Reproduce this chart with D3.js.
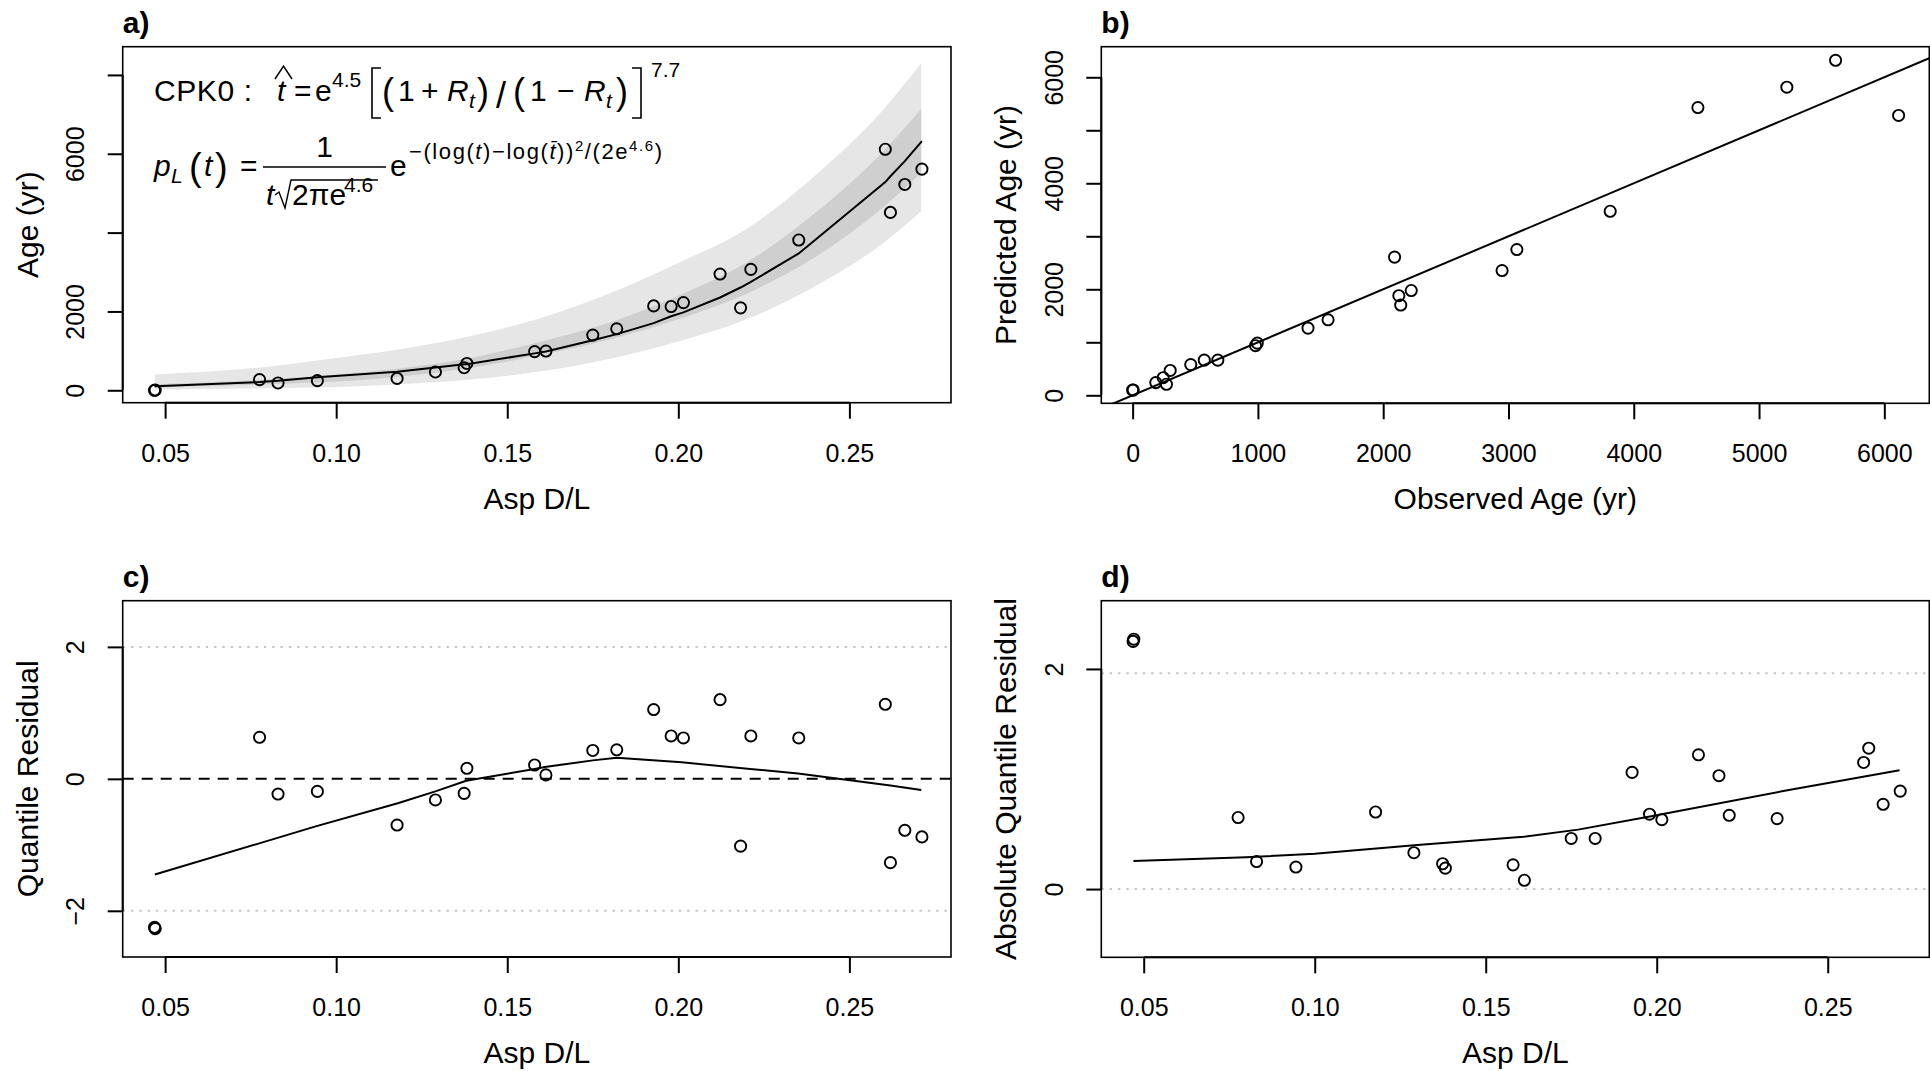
<!DOCTYPE html>
<html>
<head>
<meta charset="utf-8">
<script src="https://cdn.jsdelivr.net/npm/d3@7"></script>
<style>
  body { margin: 0; background: #fff; }
  svg text { font-family: "Liberation Sans", Arial, Helvetica, sans-serif; fill: #000; }
</style>
</head>
<body>
<div id="chart"></div>
<script>

// samples: Asp D/L, observed age, model prediction, residuals
var aspDL = [0.0469, 0.0471, 0.0776, 0.0830, 0.0945, 0.1178, 0.1290, 0.1374, 0.1382, 0.1580, 0.1613, 0.1750, 0.1820, 0.1928, 0.1979, 0.2015, 0.2122, 0.2182, 0.2212, 0.2352, 0.2605, 0.2620, 0.2662, 0.2712];
var obsAge = [0, 5, 270, 185, 244, 300, 464, 572, 680, 981, 995, 1400, 1560, 2140, 2125, 2224, 2949, 2091, 3067, 3812, 6114, 4512, 5222, 5611];
var predAge = [98, 100, 208, 240, 332, 468, 579, 663, 663, 936, 985, 1268, 1424, 1703, 1879, 1977, 2354, 2607, 2750, 3472, 5280, 5429, 5813, 6320];
var quantResid = [-2.25, -2.27, 0.63, -0.23, -0.19, -0.70, -0.32, -0.22, 0.16, 0.21, 0.06, 0.43, 0.44, 1.05, 0.65, 0.62, 1.20, -1.02, 0.65, 0.62, 1.13, -1.27, -0.78, -0.88];
var absResid = [2.25, 2.27, 0.65, 0.25, 0.20, 0.70, 0.33, 0.23, 0.19, 0.22, 0.08, 0.46, 0.46, 1.06, 0.68, 0.63, 1.22, 1.03, 0.67, 0.64, 1.15, 1.28, 0.77, 0.89];

// grey bands of panel a
var bandDL = [0.047, 0.08, 0.10, 0.12, 0.14, 0.16, 0.18, 0.20, 0.22, 0.24, 0.26, 0.271];
var bandOuterLo = [20, 50, 85, 160, 280, 480, 800, 1240, 1800, 2640, 3740, 4540];
var bandInnerLo = [70, 150, 220, 360, 580, 900, 1290, 1800, 2450, 3380, 4650, 5520];
var bandInnerHi = [150, 280, 400, 570, 830, 1240, 1720, 2400, 3250, 4500, 6070, 7140];
var bandOuterHi = [400, 600, 820, 1060, 1390, 1840, 2460, 3230, 4100, 5450, 7130, 8300];

// smooth lines of panels c and d
var smoothDL_c = [0.047, 0.078, 0.094, 0.118, 0.129, 0.138, 0.158, 0.161, 0.175, 0.182, 0.201, 0.221, 0.235, 0.262, 0.271];
var smoothC = [-1.45, -0.97, -0.72, -0.37, -0.19, -0.03, 0.15, 0.18, 0.28, 0.32, 0.25, 0.15, 0.08, -0.10, -0.17];
var smoothDL_d = [0.047, 0.08, 0.10, 0.13, 0.161, 0.177, 0.198, 0.237, 0.271];
var smoothD = [0.255, 0.29, 0.32, 0.40, 0.475, 0.54, 0.66, 0.89, 1.08];

// ticks
var dlTicks = [0.05, 0.10, 0.15, 0.20, 0.25];
var ageTicksA = [0, 2000, 4000, 6000, 8000];
var ageLabelsA = [0, 2000, 6000];
var obsTicksB = [0, 1000, 2000, 3000, 4000, 5000, 6000];
var predTicksB = [0, 1000, 2000, 3000, 4000, 5000, 6000];
var predLabelsB = [0, 2000, 4000, 6000];
var residTicks = [-2, 0, 2];
var absTicks = [0, 2];
var refLinesC = [-2, 2];
var refLinesD = [0, 1.96];

var svg = d3.select("#chart").append("svg")
  .attr("width", 1930)
  .attr("height", 1071);

var fmtDL = d3.format(".2f"), fmtInt = d3.format("d");

function makePanel(p) {
  var g = svg.append("g").attr("transform", `translate(${p.left},${p.top})`);
  p.x = d3.scaleLinear().domain(p.xDomain).range([0, p.w]);
  p.y = d3.scaleLinear().domain(p.yDomain).range([p.h, 0]);
  p.g = g;
  var id = "clip" + p.name;
  svg.append("clipPath").attr("id", id)
    .append("rect").attr("width", p.w).attr("height", p.h);
  p.plot = g.append("g").attr("clip-path", `url(#${id})`);
  return p;
}

function finishPanel(p) {
  var g = p.g;
  g.append("rect")
    .attr("width", p.w).attr("height", p.h)
    .attr("fill", "none").attr("stroke", "#000").attr("stroke-width", 1.6);

  // x axis
  var xa = g.append("g").attr("transform", `translate(0,${p.h})`)
    .call(d3.axisBottom(p.x).tickValues(p.xTicks).tickSize(16).tickFormat(p.xFmt));
  xa.select(".domain").remove();
  xa.selectAll("line").attr("stroke-width", 2);
  xa.selectAll("text")
    .attr("y", 59).attr("dy", null)
    .attr("font-size", 25).attr("font-family", null);
  xa.append("line")
    .attr("x1", p.x(p.xTicks[0])).attr("x2", p.x(p.xTicks[p.xTicks.length - 1]))
    .attr("stroke", "#000").attr("stroke-width", 2);

  // y axis
  var ya = g.append("g")
    .call(d3.axisLeft(p.y).tickValues(p.yTicks).tickSize(15)
      .tickFormat(d => p.yLabels.indexOf(d) >= 0 ? p.yFmt(d) : ""));
  ya.select(".domain").remove();
  ya.selectAll("line").attr("stroke-width", 2);
  ya.selectAll("text")
    .attr("x", 0).attr("dy", null)
    .attr("text-anchor", "middle")
    .attr("transform", "translate(-38.5,0) rotate(-90)")
    .attr("font-size", 25).attr("font-family", null);
  ya.append("line")
    .attr("y1", p.y(p.yTicks[0])).attr("y2", p.y(p.yTicks[p.yTicks.length - 1]))
    .attr("stroke", "#000").attr("stroke-width", 2);

  // titles
  g.append("text")
    .attr("x", p.w / 2).attr("y", p.h + 106)
    .attr("text-anchor", "middle").attr("font-size", 30)
    .text(p.xTitle);
  g.append("text")
    .attr("transform", `translate(-85,${p.h / 2}) rotate(-90)`)
    .attr("text-anchor", "middle").attr("font-size", 30)
    .text(p.yTitle);
  g.append("text")
    .attr("x", 0).attr("y", -14)
    .attr("font-size", 30).attr("font-weight", "bold")
    .text(p.tag);
}

function drawPoints(p, xs, ys) {
  p.plot.append("g").selectAll("circle")
    .data(xs)
    .join("circle")
    .attr("cx", (d, i) => p.x(d))
    .attr("cy", (d, i) => p.y(ys[i]))
    .attr("r", 5.6)
    .attr("fill", "none").attr("stroke", "#000").attr("stroke-width", 1.9);
}

function drawLine(p, xs, ys, dash) {
  var line = d3.line().x(d => p.x(d[0])).y(d => p.y(d[1]));
  p.plot.append("path")
    .datum(xs.map((d, i) => [d, ys[i]]))
    .attr("d", line)
    .attr("fill", "none").attr("stroke", "#000").attr("stroke-width", 2)
    .attr("stroke-dasharray", dash || null);
}

function drawRefLines(p, vals) {
  p.plot.selectAll(".ref").data(vals).join("line")
    .attr("x1", 0).attr("x2", p.w)
    .attr("y1", d => p.y(d)).attr("y2", d => p.y(d))
    .attr("stroke", "#c8c8c8").attr("stroke-width", 2)
    .attr("stroke-dasharray", "2.5,5.8");
}

// ---------- panel a ----------
var pa = makePanel({
  name: "a", tag: "a)", left: 122.7, top: 46.7, w: 828.3, h: 356,
  xDomain: [0.0376, 0.2797], yDomain: [-315, 8716],
  xTicks: dlTicks, xFmt: fmtDL, yTicks: ageTicksA, yLabels: ageLabelsA, yFmt: fmtInt,
  xTitle: "Asp D/L", yTitle: "Age (yr)"
});

var outerArea = d3.area().x((d, i) => pa.x(bandDL[i]))
  .y0((d, i) => pa.y(bandOuterLo[i])).y1((d, i) => pa.y(bandOuterHi[i]))
  .curve(d3.curveMonotoneX);
var innerArea = d3.area().x((d, i) => pa.x(bandDL[i]))
  .y0((d, i) => pa.y(bandInnerLo[i])).y1((d, i) => pa.y(bandInnerHi[i]))
  .curve(d3.curveMonotoneX);
pa.plot.append("path").datum(bandDL).attr("d", outerArea).attr("fill", "#e6e6e6");
pa.plot.append("path").datum(bandDL).attr("d", innerArea).attr("fill", "#cfcfcf");
drawLine(pa, aspDL, predAge);
drawPoints(pa, aspDL, obsAge);
finishPanel(pa);

// equation text in panel a
var eq = svg.append("g");
function t(x, y, s, size, opts) {
  opts = opts || {};
  var el = eq.append("text").attr("x", x).attr("y", y).attr("font-size", size).text(s);
  if (opts.italic) el.attr("font-style", "italic");
  if (opts.anchor) el.attr("text-anchor", opts.anchor);
  if (opts.len) el.attr("textLength", opts.len).attr("lengthAdjust", "spacing");
  return el;
}
function stroke(d, w) {
  eq.append("path").attr("d", d).attr("fill", "none")
    .attr("stroke", "#000").attr("stroke-width", w || 1.6);
}
// line 1
t(154, 101, "CPK0 :", 30, { len: 98 });
t(277, 101, "t", 30, { italic: true });
stroke("M275,79 L283.5,66 L292,79", 1.5);
t(294, 101, "=", 30);
t(315, 101, "e", 30);
t(332, 87, "4.5", 21);
stroke("M381,68 H372 V118 H381");
t(382, 104, "(", 36);
t(398, 101, "1", 30);
t(421, 101, "+", 30);
t(447, 101, "R", 30, { italic: true });
t(469, 108, "t", 21, { italic: true });
t(477, 104, ")", 36);
t(496, 108, "/", 36);
t(513, 104, "(", 36);
t(530, 101, "1", 30);
t(557, 101, "\u2212", 30);
t(584, 101, "R", 30, { italic: true });
t(606, 108, "t", 21, { italic: true });
t(616, 104, ")", 36);
stroke("M632,68 H641 V118 H632");
t(651, 77, "7.7", 21);
// line 2
t(154, 176, "p", 30, { italic: true });
t(171, 183, "L", 21, { italic: true });
t(189, 180, "(", 38);
t(204, 176, "t", 30, { italic: true });
t(215, 180, ")", 38);
t(240, 176, "=", 30);
stroke("M263,167 H386");
t(324.5, 157, "1", 30, { anchor: "middle" });
t(266, 205, "t", 30, { italic: true });
stroke("M275,195 L279,192 L285,208 L291,180 H378", 1.4);
t(292, 205, "2\u03C0e", 30);
t(344, 192, "4.6", 21);
t(390, 176, "e", 30);
var ex = eq.append("text").attr("x", 409).attr("y", 159).attr("font-size", 22)
  .attr("textLength", 253).attr("lengthAdjust", "spacing");
ex.append("tspan").text("\u2212(log(");
ex.append("tspan").attr("font-style", "italic").text("t");
ex.append("tspan").text(")\u2212log(");
ex.append("tspan").attr("font-style", "italic").text("t\u0304");
ex.append("tspan").text("))");
ex.append("tspan").attr("font-size", 15).attr("dy", -8).text("2");
ex.append("tspan").attr("dy", 8).text("/(2e");
ex.append("tspan").attr("font-size", 15).attr("dy", -8).text("4.6");
ex.append("tspan").attr("dy", 8).text(")");

// ---------- panel b ----------
var pb = makePanel({
  name: "b", tag: "b)", left: 1101.3, top: 46.7, w: 828, h: 356.6,
  xDomain: [-250, 6359], yDomain: [-151, 6577],
  xTicks: obsTicksB, xFmt: fmtInt, yTicks: predTicksB, yLabels: predLabelsB, yFmt: fmtInt,
  xTitle: "Observed Age (yr)", yTitle: "Predicted Age (yr)"
});
var oneToOne = [-1000, 8000];
drawLine(pb, oneToOne, oneToOne);
drawPoints(pb, obsAge, predAge);
finishPanel(pb);

// ---------- panel c ----------
var pc = makePanel({
  name: "c", tag: "c)", left: 122.7, top: 600.7, w: 828.3, h: 356.3,
  xDomain: [0.0376, 0.2797], yDomain: [-2.7, 2.7],
  xTicks: dlTicks, xFmt: fmtDL, yTicks: residTicks, yLabels: residTicks, yFmt: fmtInt,
  xTitle: "Asp D/L", yTitle: "Quantile Residual"
});
drawRefLines(pc, refLinesC);
drawLine(pc, [0.0376, 0.2797], [0, 0], "11,8");
drawLine(pc, smoothDL_c, smoothC);
drawPoints(pc, aspDL, quantResid);
finishPanel(pc);

// ---------- panel d ----------
var pd = makePanel({
  name: "d", tag: "d)", left: 1101.3, top: 600.7, w: 828, h: 356.6,
  xDomain: [0.0376, 0.2797], yDomain: [-0.62, 2.62],
  xTicks: dlTicks, xFmt: fmtDL, yTicks: absTicks, yLabels: absTicks, yFmt: fmtInt,
  xTitle: "Asp D/L", yTitle: "Absolute Quantile Residual"
});
drawRefLines(pd, refLinesD);
drawLine(pd, smoothDL_d, smoothD);
drawPoints(pd, aspDL, absResid);
finishPanel(pd);

</script>
</body>
</html>
